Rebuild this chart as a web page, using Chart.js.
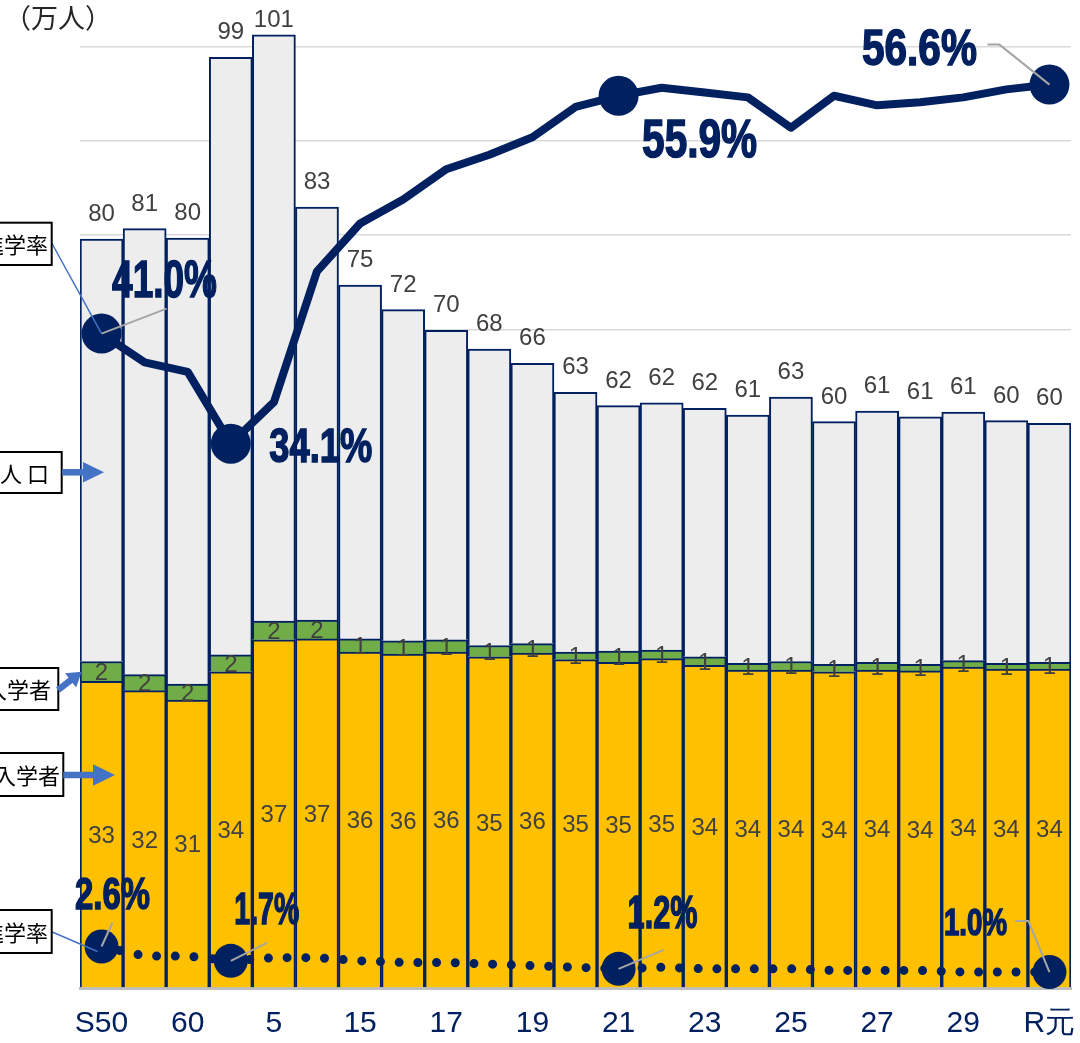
<!DOCTYPE html>
<html lang="ja">
<head>
<meta charset="utf-8">
<title>18歳人口と大学進学率の推移</title>
<script src="https://cdn.jsdelivr.net/npm/chart.js@4.4.1/dist/chart.umd.min.js"></script>
<style>
  body { margin: 0; background: #fff; }
  #wrap { width: 1080px; height: 1043px; overflow: hidden; }
</style>
</head>
<body>
<div id="wrap"><canvas id="myChart" width="1080" height="1043"></canvas></div>
<script>
// 年度（S50〜R元）
const years = ['S50', '55', '60', '2', '5', '10', '15', '16', '17', '18', '19', '20',
  '21', '22', '23', '24', '25', '26', '27', '28', '29', '30', 'R元'];

// 万人
const population = [79.6, 80.7, 79.7, 98.9, 101.3, 83.0, 74.7, 72.1, 69.9, 67.9, 66.4, 63.3,
  61.9, 62.2, 61.6, 60.9, 62.8, 60.2, 61.3, 60.7, 61.2, 60.3, 60.0];
const univEntrants = [32.6, 31.6, 30.6, 33.6, 37.0, 37.1, 35.7, 35.5, 35.7, 35.2, 35.6, 34.9,
  34.6, 35.0, 34.3, 33.8, 33.8, 33.6, 33.8, 33.7, 34.1, 33.9, 33.9];
const juniorEntrants = [2.1, 1.7, 1.7, 1.8, 2.0, 2.0, 1.4, 1.4, 1.3, 1.2, 1.0, 0.8,
  1.2, 0.9, 0.9, 0.7, 0.9, 0.8, 0.8, 0.7, 0.7, 0.6, 0.7];

// %
const univRate = [41.0, 39.2, 38.6, 34.1, 36.7, 44.9, 47.9, 49.4, 51.3, 52.2, 53.3, 55.2,
  55.9, 56.4, 56.1, 55.8, 53.9, 55.9, 55.3, 55.5, 55.8, 56.3, 56.6];
const juniorRate = [2.6, 2.0, 2.0, 1.7, 1.9, 1.9, 1.7, 1.6, 1.6, 1.5, 1.4, 1.3,
  1.2, 1.3, 1.2, 1.2, 1.2, 1.1, 1.1, 1.1, 1.0, 1.0, 1.0];

const markedYears = [0, 3, 12, 22];

const others = population.map((v, i) => v - univEntrants[i] - juniorEntrants[i]);

const navy = '#002060';
const arrowBlue = '#4472C4';
const labelGray = '#404040';

// 強調ラベルの見た目（点からのずれ・大きさ）
const univLabelStyle = {
  0:  { dx: 63, dy: -55, w: 105, h: 37, lead: [[65, -25]] },
  3:  { dx: 90, dy: 1, w: 103, h: 35, lead: [] },
  12: { dx: 81, dy: 42, w: 115, h: 38, lead: [] },
  22: { dx: -130, dy: -38, w: 115, h: 36, lead: [[-50, -40], [-62, -40]] }
};
const juniorLabelStyle = {
  0:  { dx: 11, dy: -54, w: 75, h: 32, lead: [[11, -24]] },
  3:  { dx: 36, dy: -53, w: 65, h: 32, lead: [[36, -18]] },
  12: { dx: 44, dy: -57, w: 70, h: 33, lead: [[45, -19]] },
  22: { dx: -74, dy: -51, w: 63, h: 27, lead: [[-21, -51], [-34, -51]] }
};

function bigLabel(ctx, text, cx, cy, w, h) {
  const size = h / 0.716;
  ctx.save();
  ctx.font = 'bold ' + size + 'px "Liberation Sans", Arial, sans-serif';
  const sx = w / ctx.measureText(text).width;
  ctx.translate(cx, cy + h / 2);
  ctx.scale(sx, 1);
  ctx.textAlign = 'center';
  ctx.textBaseline = 'alphabetic';
  ctx.fillStyle = navy;
  ctx.strokeStyle = navy;
  ctx.lineWidth = 1.5;
  ctx.fillText(text, 0, 0);
  ctx.strokeText(text, 0, 0);
  ctx.restore();
}

function rateLabels(ctx, meta, values, styles) {
  markedYears.forEach(i => {
    const p = meta.data[i];
    const s = styles[i];
    if (s.lead.length) {
      ctx.save();
      ctx.strokeStyle = '#A6A6A6';
      ctx.lineWidth = 2;
      ctx.beginPath();
      ctx.moveTo(p.x, p.y);
      s.lead.forEach(d => ctx.lineTo(p.x + d[0], p.y + d[1]));
      ctx.stroke();
      ctx.restore();
    }
    bigLabel(ctx, values[i].toFixed(1) + '%', p.x + s.dx, p.y + s.dy, s.w, s.h);
  });
}

function calloutBox(ctx, text, right, top, bottom, textRight, spacing) {
  ctx.save();
  ctx.fillStyle = '#fff';
  ctx.fillRect(-100, top, right + 100, bottom - top);
  ctx.strokeStyle = '#000';
  ctx.lineWidth = 2;
  ctx.strokeRect(-100, top, right + 100, bottom - top);
  ctx.font = '22px "Noto Sans CJK JP", sans-serif';
  if (spacing) ctx.letterSpacing = spacing;
  ctx.fillStyle = '#000';
  ctx.textAlign = 'right';
  ctx.textBaseline = 'middle';
  ctx.fillText(text, textRight, (top + bottom) / 2 + 1);
  ctx.restore();
}

function arrow(ctx, x1, y1, x2, y2, shaft, headLen, headHalf) {
  const a = Math.atan2(y2 - y1, x2 - x1);
  const len = Math.hypot(x2 - x1, y2 - y1);
  ctx.save();
  ctx.translate(x1, y1);
  ctx.rotate(a);
  ctx.fillStyle = arrowBlue;
  ctx.fillRect(0, -shaft / 2, len - headLen + 1, shaft);
  ctx.beginPath();
  ctx.moveTo(len, 0);
  ctx.lineTo(len - headLen, -headHalf);
  ctx.lineTo(len - headLen, headHalf);
  ctx.closePath();
  ctx.fill();
  ctx.restore();
}

const labelPlugin = {
  id: 'labelPlugin',
  afterDatasetsDraw(chart) {
    const ctx = chart.ctx;
    const univMeta = chart.getDatasetMeta(0);
    const juniorMeta = chart.getDatasetMeta(1);
    const otherMeta = chart.getDatasetMeta(2);

    ctx.save();
    ctx.font = '24px "Liberation Sans", Arial, sans-serif';
    ctx.fillStyle = labelGray;
    ctx.textAlign = 'center';
    ctx.textBaseline = 'alphabetic';
    const capH = 17.2;
    years.forEach((y, i) => {
      const u = univMeta.data[i];
      ctx.fillText(Math.round(univEntrants[i]), u.x, (u.y + u.base) / 2 + capH / 2);
      const j = juniorMeta.data[i];
      ctx.fillText(Math.round(juniorEntrants[i]), j.x, (j.y + j.base) / 2 + capH / 2);
      const o = otherMeta.data[i];
      ctx.fillText(Math.round(population[i]), o.x, Math.max(o.y - 18, 27));
    });
    ctx.restore();

    rateLabels(ctx, chart.getDatasetMeta(3), univRate, univLabelStyle);
    rateLabels(ctx, chart.getDatasetMeta(4), juniorRate, juniorLabelStyle);
  },
  afterDraw(chart) {
    const ctx = chart.ctx;
    const r0 = chart.getDatasetMeta(3).data[0];
    const j0 = chart.getDatasetMeta(4).data[0];

    ctx.save();
    ctx.font = '27px "Noto Sans CJK JP", sans-serif';
    ctx.fillStyle = '#262626';
    ctx.textBaseline = 'alphabetic';
    ctx.fillText('（万人）', 4, 28);
    ctx.restore();

    ctx.save();
    ctx.strokeStyle = arrowBlue;
    ctx.lineWidth = 1.5;
    ctx.beginPath();
    ctx.moveTo(51.7, 243);
    ctx.lineTo(r0.x, r0.y);
    ctx.moveTo(51.7, 931.7);
    ctx.lineTo(j0.x - 4, j0.y + 5);
    ctx.stroke();
    ctx.restore();

    calloutBox(ctx, '大学進学率', 51.7, 222.7, 265, 48);
    calloutBox(ctx, '18歳人口', 61.7, 452, 493, 54, '5px');
    calloutBox(ctx, '短大入学者', 58.3, 668, 710, 51);
    calloutBox(ctx, '大学入学者', 63.3, 753, 796, 60);
    calloutBox(ctx, '短大進学率', 51.7, 910, 953, 48);

    arrow(ctx, 62, 472.3, 104, 472.3, 6.5, 21, 10.3);
    arrow(ctx, 58, 690, 81.7, 671.7, 6.5, 14, 9);
    arrow(ctx, 63.3, 775, 115, 775, 6.5, 22, 10.8);
  }
};

const barBorder = { top: 2, left: 2, right: 2, bottom: 0 };

new Chart(document.getElementById('myChart'), {
  data: {
    labels: years,
    datasets: [
      {
        type: 'bar', label: '大学入学者', data: univEntrants, order: 2,
        backgroundColor: '#FFC000', borderColor: navy, borderWidth: barBorder, borderSkipped: false,
        barPercentage: 1, categoryPercentage: 1, yAxisID: 'y'
      },
      {
        type: 'bar', label: '短大入学者', data: juniorEntrants, order: 2,
        backgroundColor: '#70AD47', borderColor: navy, borderWidth: barBorder, borderSkipped: false,
        barPercentage: 1, categoryPercentage: 1, yAxisID: 'y'
      },
      {
        type: 'bar', label: '18歳人口', data: others, order: 2,
        backgroundColor: '#EDEDED', borderColor: navy, borderWidth: barBorder, borderSkipped: false,
        barPercentage: 1, categoryPercentage: 1, yAxisID: 'y'
      },
      {
        type: 'line', label: '大学進学率', data: univRate, order: 1, yAxisID: 'y1',
        borderColor: navy, borderWidth: 8, borderJoinStyle: 'round', tension: 0,
        pointRadius: years.map((y, i) => markedYears.includes(i) ? 20 : 0),
        pointBackgroundColor: navy, pointBorderWidth: 0, clip: false
      },
      {
        type: 'line', label: '短大進学率', data: juniorRate, order: 1, yAxisID: 'y1',
        borderColor: navy, borderWidth: 9, borderDash: [0, 18.7], borderCapStyle: 'round', tension: 0,
        pointRadius: years.map((y, i) => markedYears.includes(i) ? 17 : 0),
        pointBackgroundColor: navy, pointBorderWidth: 0, clip: false
      }
    ]
  },
  options: {
    responsive: false,
    animation: false,
    layout: { autoPadding: false, padding: { left: 80, right: 9, top: 0, bottom: 0 } },
    plugins: { legend: { display: false }, tooltip: { enabled: false } },
    scales: {
      x: {
        stacked: true,
        grid: { display: false, drawTicks: false },
        border: { display: true, color: '#BFBFBF', width: 3 },
        ticks: {
          color: navy, autoSkip: false, maxRotation: 0, padding: 18,
          font: { size: 30, family: '"Liberation Sans", Arial, sans-serif' },
          callback: function (v, i) { return i % 2 === 0 ? years[i] : ''; }
        },
        afterFit: s => {
          s.height = 55;
          s.paddingLeft = 0;
          s.paddingRight = 0;
        }
      },
      y: {
        stacked: true, min: 0, max: 105,
        ticks: { display: false, stepSize: 10 },
        border: { display: false },
        grid: {
          drawTicks: false, lineWidth: 1.5,
          color: c => (c.tick.value > 0 && c.tick.value % 10 === 0) ? '#D9D9D9' : 'rgba(0,0,0,0)'
        }
      },
      y1: { display: false, min: 0, max: 61.9, stacked: false }
    }
  },
  plugins: [labelPlugin]
});
</script>
</body>
</html>
